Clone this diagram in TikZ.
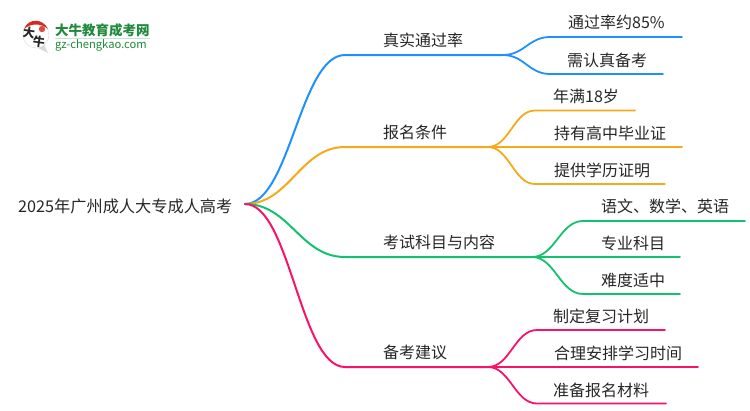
\documentclass[tikz,border=0pt]{standalone}
\usepackage{fontspec}
\setmainfont{Noto Sans CJK SC}
\definecolor{blueb}{HTML}{1E90FF}
\definecolor{orangeb}{HTML}{F5A91B}
\definecolor{greenb}{HTML}{12C26F}
\definecolor{pinkb}{HTML}{FA1268}
\definecolor{logog}{HTML}{1F8A3B}
\definecolor{logor}{HTML}{D62A20}
\tikzset{
  lab/.style={anchor=west,inner sep=0pt,yshift=-0.8pt,font=\fontsize{16}{16}\selectfont,text=black!85},
  main/.style={line width=2pt,line cap=round},
  twig/.style={line width=1.8pt,line cap=round},
}
\def\swoop#1#2#3{\draw[#3] (#1) .. controls ($(#1)!0.45!(#1-|#2)$) and ($(#2)!0.45!(#2-|#1)$) .. (#2)}
\usetikzlibrary{calc}
\begin{document}
\begin{tikzpicture}[x=1pt,y=-1pt]
      \useasboundingbox (0,0) rectangle (750,410);
      \coordinate (root) at (245,204);
      \node[lab,font=\fontsize{16.2}{16}\selectfont] (title) at (18,206) {2025年广州成人大专成人高考};

      \node[lab] (pass) at (383,40) {真实通过率};
      \node[lab] (cond) at (383,132) {报名条件};
      \node[lab] (exam) at (383,242) {考试科目与内容};
      \node[lab] (prep) at (383,352) {备考建议};

      \coordinate (passa) at (345,55); \coordinate (passb) at (503,55);
      \coordinate (conda) at (345,147); \coordinate (condb) at (488,147);
      \coordinate (exama) at (345,257); \coordinate (examb) at (532,257);
      \coordinate (prepa) at (345,367); \coordinate (prepb) at (488,367);

      \swoop{root}{passa}{blueb,main} -- (passb);
      \swoop{root}{conda}{orangeb,main} -- (condb);
      \swoop{root}{exama}{greenb,main} -- (examb);
      \swoop{root}{prepa}{pinkb,main} -- (prepb);

      \node[lab] (rate) at (568,22) {通过率约85\%};
      \node[lab] (earnest) at (567,60) {需认真备考};
      \coordinate (ratea) at (550,37); \coordinate (rateb) at (682,37);
      \coordinate (earnesta) at (550,74); \coordinate (earnestb) at (663,74);
      \swoop{passb}{ratea}{blueb,twig} -- (rateb);
      \swoop{passb}{earnesta}{blueb,twig} -- (earnestb);

      \node[lab] (age) at (553,96) {年满18岁};
      \node[lab] (dipl) at (554,133) {持有高中毕业证};
      \node[lab] (proof) at (554,170) {提供学历证明};
      \coordinate (agea) at (535,110.500); \coordinate (ageb) at (635,110.500);
      \coordinate (diplb) at (682,147);
      \coordinate (proofa) at (535,184); \coordinate (proofb) at (665,184);
      \swoop{condb}{agea}{orangeb,twig} -- (ageb);
      \draw[orangeb,twig] (condb) -- (diplb);
      \swoop{condb}{proofa}{orangeb,twig} -- (proofb);

      \node[lab] (lang) at (601,206) {语文、数学、英语};
      \node[lab] (major) at (601,243) {专业科目};
      \node[lab] (hard) at (601,280) {难度适中};
      \coordinate (langa) at (583,221); \coordinate (langb) at (745,221);
      \coordinate (majorb) at (680,257);
      \coordinate (harda) at (583,294); \coordinate (hardb) at (680,294);
      \swoop{examb}{langa}{greenb,twig} -- (langb);
      \draw[greenb,twig] (examb) -- (majorb);
      \swoop{examb}{harda}{greenb,twig} -- (hardb);

      \node[lab] (plan) at (553,316) {制定复习计划};
      \node[lab] (time) at (554,353) {合理安排学习时间};
      \node[lab] (mat) at (553,390) {准备报名材料};
      \coordinate (plana) at (537,330); \coordinate (planb) at (665,330);
      \coordinate (timeb) at (698,367);
      \coordinate (mata) at (537,403.500); \coordinate (matb) at (666,403.500);
      \swoop{prepb}{plana}{pinkb,twig} -- (planb);
      \draw[pinkb,twig] (prepb) -- (timeb);
      \swoop{prepb}{mata}{pinkb,twig} -- (matb);

      % logo
      \fill[black!15] (38,48) -- (48,53) -- (44,44) -- cycle;
      \draw[black!15,fill=white] (36,35) circle (13);
      \fill[logor] (24,29) .. controls (28,18) and (43,18) .. (48,29) .. controls (41,23) and (31,23) .. (24,29) -- cycle;
      \fill[logor!85] (42,29) circle (3.200);
      \node[inner sep=0pt,font=\fontsize{12}{12}\selectfont\bfseries,text=black!85,rotate=-8] (lda) at (29,33) {大};
      \node[inner sep=0pt,font=\fontsize{12}{12}\selectfont\bfseries,text=black!85,rotate=-8] (lniu) at (39,42) {牛};
      \node[anchor=west,inner sep=0pt,font=\fontsize{13.500}{14}\selectfont\bfseries,text=logog] (lname) at (55,30) {大牛教育成考网};
      \draw[logog!25,line width=0.8pt] (55,38.500) -- (150,38.500);
      \node[anchor=west,inner sep=0pt,font=\fontsize{11.200}{12}\selectfont,text=logog] (lurl) at (55,45.500) {gz-chengkao.com};
    \end{tikzpicture}
\end{document}
